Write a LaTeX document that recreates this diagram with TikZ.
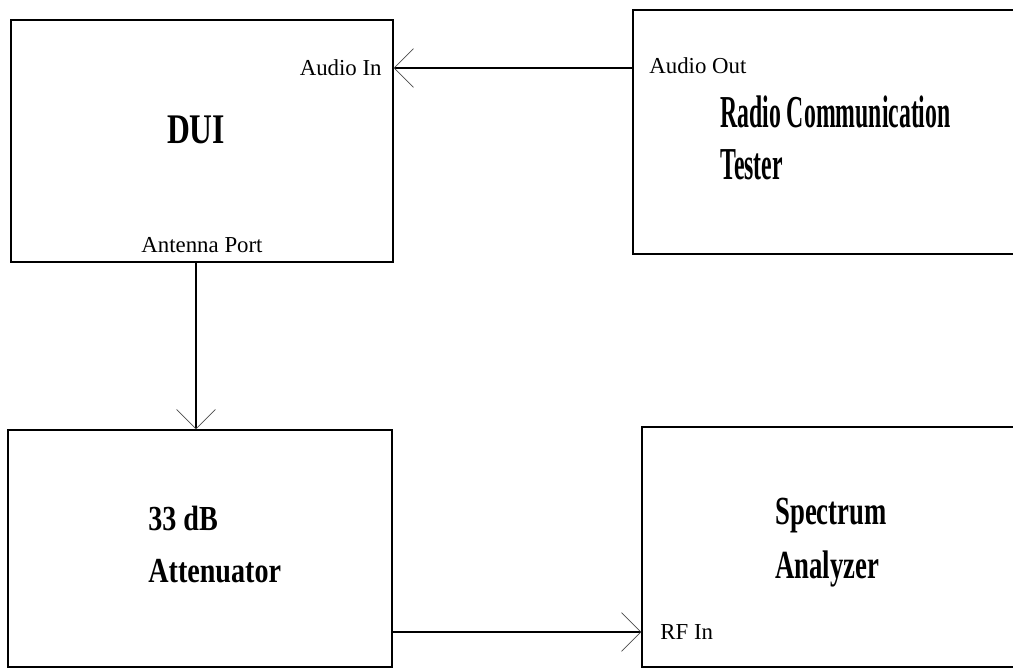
\documentclass[tikz,border=0pt]{standalone}
\usepackage{fontspec}
\setmainfont{Liberation Serif}
\newfontfamily\duifont[FakeStretch=0.75]{Liberation Serif Bold}
\newfontfamily\radiofont[FakeStretch=0.52]{Liberation Serif Bold}
\newfontfamily\specfont[FakeStretch=0.67]{Liberation Serif Bold}
\newfontfamily\attfont[FakeStretch=0.8]{Liberation Serif Bold}
\usetikzlibrary{arrows.meta, positioning}

\tikzset{
  unit/.style={draw, rectangle, line width=0.8pt},
  port/.style={font=\fontsize{13}{15}\selectfont, inner sep=0pt},
  title/.style={align=left, anchor=west, inner sep=0pt},
  link/.style={line width=0.8pt, -{Straight Barb[length=11pt, width=22pt, line width=0.4pt, color=black!70]}},
}

\begin{document}
\begin{tikzpicture}[x=0.02cm, y=-0.02cm]
\path[use as bounding box, clip] (0,0) rectangle (1013,668);

% DUI box
\node[unit, minimum width=7.64cm, minimum height=4.84cm] (dui) at (202,141) {};
\node[font=\duifont\fontsize{24}{28}\selectfont] (duiname) at (196,130) {DUI};
\node[port, anchor=east] (ain) at (382,68) {Audio In};
\node[port] (ant) at (202,245) {Antenna Port};

% Radio communication tester
\node[unit, minimum width=8cm, minimum height=4.88cm] (rct) at (833,132) {};
\node[title, font=\radiofont\fontsize{26}{29.5}\selectfont] (rctname) at (720,137.5) {Radio Communication\\Tester};
\node[port, anchor=west] (aout) at (649,66) {Audio Out};

% Attenuator
\node[unit, minimum width=7.68cm, minimum height=4.74cm] (att) at (200,548.5) {};
\node[title, font=\attfont\fontsize{20}{29.5}\selectfont] (attname) at (148,544.5) {33 dB\\Attenuator};

% Spectrum analyzer
\node[unit, minimum width=7.96cm, minimum height=4.8cm] (spc) at (841,547) {};
\node[title, font=\specfont\fontsize{22.7}{30.7}\selectfont] (spcname) at (775,543) {Spectrum\\Analyzer};
\node[port, anchor=west] (rfin) at (660,632) {RF In};

% Signal path
\draw[link] (rct.west |- ain) -- (dui.east |- ain);
\draw[link] (dui.south -| duiname) -- (att.north -| duiname);
\draw[link] (att.east |- rfin) -- (spc.west |- rfin);

\end{tikzpicture}
\end{document}
